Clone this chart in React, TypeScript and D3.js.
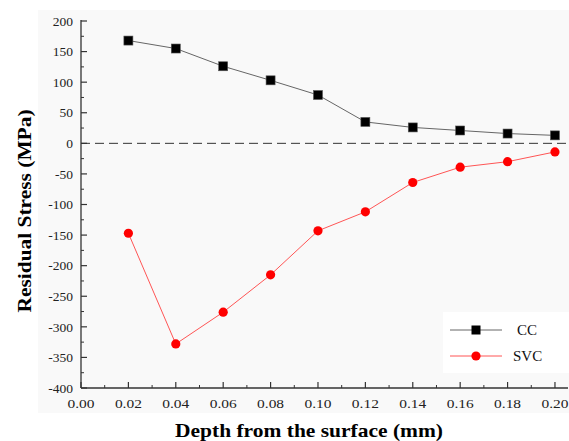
import React from "react";
import * as d3 from "d3";

const depths = [0.02, 0.04, 0.06, 0.08, 0.1, 0.12, 0.14, 0.16, 0.18, 0.2];
const ccValues = [168, 155, 126, 103, 79, 35, 26, 21, 16, 13];
const svcValues = [-147, -328, -276, -215, -143, -112, -64, -39, -30, -14];
const xTicks = [0, 0.02, 0.04, 0.06, 0.08, 0.1, 0.12, 0.14, 0.16, 0.18, 0.2];
const yTicks = [200, 150, 100, 50, 0, -50, -100, -150, -200, -250, -300, -350, -400];
const seriesNames = ["CC", "SVC"];

const W = 569, H = 441;
const left = 81, right = 568, top = 21, bottom = 388;
const FONT = "'Liberation Serif', 'Times New Roman', Times, serif";

export default function App() {
  const x = d3.scaleLinear().domain([0, 0.2055]).range([left, right]);
  const y = d3.scaleLinear().domain([-400, 200]).range([bottom, top]);
  const line = d3.line<[number, number]>().x(d => x(d[0])).y(d => y(d[1]));
  const cc = depths.map((d, i) => [d, ccValues[i]] as [number, number]);
  const svc = depths.map((d, i) => [d, svcValues[i]] as [number, number]);
  const xMinor = d3.range(0.01, 0.2, 0.02);
  const yMinor = d3.range(-375, 200, 50);
  const ts = { fontFamily: FONT };
  return (
    <svg width={W} height={H} style={{ position: "absolute", left: 0, top: 0 }}>
      <rect x={0} y={0} width={W} height={H} fill="#fff" />
      <rect x={38} y={10} width={W - 38} height={403} fill="#f9f9f9" />
      <line x1={left} x2={right} y1={y(0)} y2={y(0)} stroke="#333" strokeWidth={1} strokeDasharray="9,5" />
      <line x1={left} x2={left} y1={top - 1} y2={bottom} stroke="#333" strokeWidth={1.3} />
      <line x1={left} x2={right} y1={bottom} y2={bottom} stroke="#333" strokeWidth={1.3} />
      {yTicks.map(t => (
        <g key={"y" + t}>
          <line x1={left} x2={left + 6} y1={y(t)} y2={y(t)} stroke="#333" strokeWidth={1.2} />
          <text x={left - 8} y={y(t)} dy="0.35em" textAnchor="end" fontSize={13.5} fill="#222" style={ts}>{t}</text>
        </g>
      ))}
      {yMinor.map(t => (
        <line key={"ym" + t} x1={left} x2={left + 3} y1={y(t)} y2={y(t)} stroke="#333" strokeWidth={1} />
      ))}
      {xTicks.map(t => (
        <g key={"x" + t}>
          <line x1={x(t)} x2={x(t)} y1={bottom} y2={bottom - 6} stroke="#333" strokeWidth={1.2} />
          <text x={x(t)} y={bottom + 20} textAnchor="middle" fontSize={13} fill="#222" style={ts}
            textLength={27} lengthAdjust="spacingAndGlyphs">{t.toFixed(2)}</text>
        </g>
      ))}
      {xMinor.map(t => (
        <line key={"xm" + t} x1={x(t)} x2={x(t)} y1={bottom} y2={bottom - 3} stroke="#333" strokeWidth={1} />
      ))}
      <path d={line(cc) || ""} fill="none" stroke="#666" strokeWidth={1} />
      <path d={line(svc) || ""} fill="none" stroke="#ff5555" strokeWidth={1} />
      {cc.map((d, i) => (
        <rect key={"c" + i} x={x(d[0]) - 4.5} y={y(d[1]) - 4.5} width={9} height={9} fill="#000" stroke="#555" strokeWidth={0.6} />
      ))}
      {svc.map((d, i) => (
        <circle key={"s" + i} cx={x(d[0])} cy={y(d[1])} r={4.6} fill="#ff0000" />
      ))}
      <rect x={443} y={312} width={126} height={61} fill="#fff" />
      <line x1={450} x2={502} y1={330} y2={330} stroke="#666" strokeWidth={1} />
      <rect x={471.5} y={325.5} width={9} height={9} fill="#000" />
      <text x={517} y={330} dy="0.35em" fontSize={15} fill="#111" style={ts}>{seriesNames[0]}</text>
      <line x1={450} x2={502} y1={356} y2={356} stroke="#ff5555" strokeWidth={1} />
      <circle cx={476} cy={356} r={4.6} fill="#ff0000" />
      <text x={513} y={356} dy="0.35em" fontSize={15} fill="#111" style={ts}>{seriesNames[1]}</text>
      <text x={309} y={437} textAnchor="middle" fontSize={19} fontWeight="bold" fill="#000" style={ts}
        textLength={268} lengthAdjust="spacingAndGlyphs">Depth from the surface (mm)</text>
      <text transform={`translate(31,211) rotate(-90)`} textAnchor="middle" fontSize={19} fontWeight="bold" fill="#000" style={ts}
        textLength={203} lengthAdjust="spacingAndGlyphs">Residual Stress (MPa)</text>
    </svg>
  );
}
